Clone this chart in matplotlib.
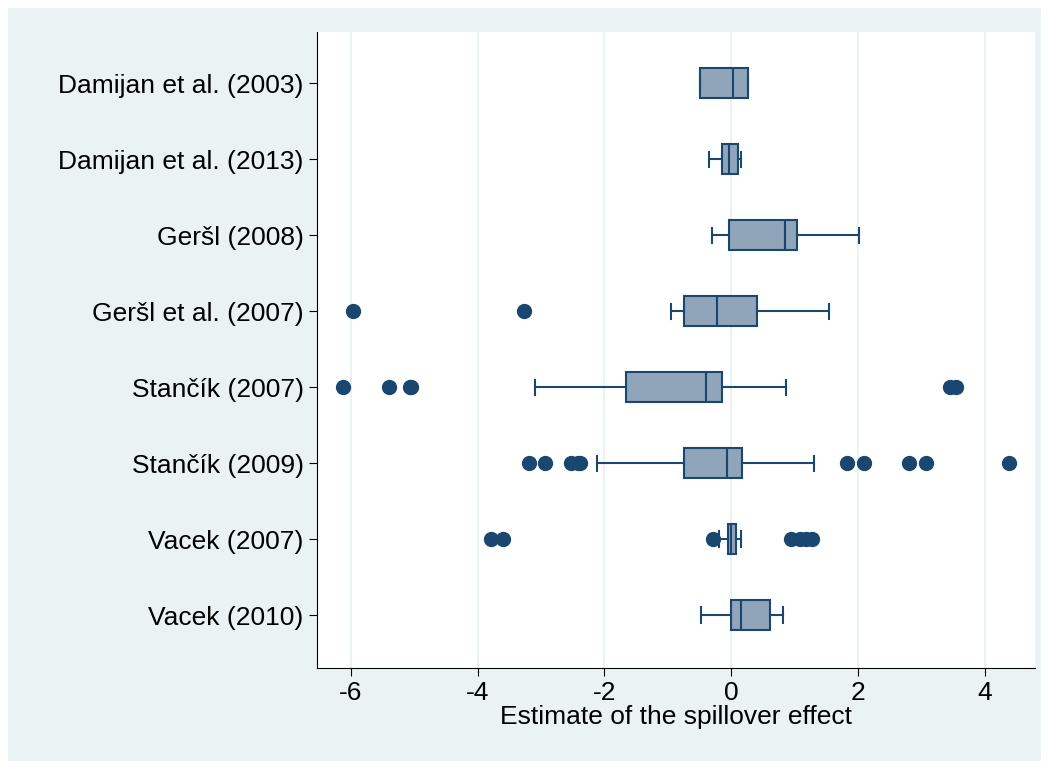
import matplotlib.pyplot as plt
from matplotlib.patches import Rectangle

plt.rcParams['font.family'] = ['Liberation Sans', 'DejaVu Sans']

studies = ["Damijan et al. (2003)", "Damijan et al. (2013)", "Geršl (2008)",
           "Geršl et al. (2007)", "Stančík (2007)", "Stančík (2009)",
           "Vacek (2007)", "Vacek (2010)"]
whislo = [-0.5, -0.35, -0.3, -0.95, -3.1, -2.12, -0.2, -0.47]
q1 = [-0.5, -0.14, -0.03, -0.74, -1.66, -0.74, -0.05, 0.0]
med = [0.03, -0.03, 0.85, -0.22, -0.4, -0.06, 0.0, 0.16]
q3 = [0.27, 0.1, 1.04, 0.4, -0.14, 0.17, 0.08, 0.62]
whishi = [0.27, 0.16, 2.02, 1.55, 0.87, 1.3, 0.16, 0.81]
outliers = [[], [], [], [-5.97, -3.27],
            [-6.13, -5.4, -5.07, -5.05, 3.46, 3.54],
            [-3.19, -2.94, -2.53, -2.42, -2.39, 1.82, 2.09, 2.8, 3.08, 4.38],
            [-3.79, -3.6, -0.28, 0.95, 1.09, 1.18, 1.28],
            []]

stats = [dict(label=s, whislo=a, q1=b, med=c, q3=d, whishi=e, fliers=f)
         for s, a, b, c, d, e, f in zip(studies, whislo, q1, med, q3, whishi, outliers)]

navy = '#1a476f'
fig = plt.figure(figsize=(10.49, 7.69), dpi=100, facecolor='white')
# light blue-grey background inside a thin white frame
fig.patches.append(Rectangle((0.008, 0.01), 0.984, 0.98, transform=fig.transFigure,
                             facecolor='#eaf2f3', edgecolor='none', zorder=-1))
ax = fig.add_axes([0.302, 0.131, 0.685, 0.827])
pos = list(range(1, len(studies) + 1))
ax.bxp(stats, positions=pos, vert=False, widths=0.4, patch_artist=True,
       boxprops=dict(facecolor='#90a4ba', edgecolor=navy, linewidth=1.5),
       medianprops=dict(color=navy, linewidth=1.5),
       whiskerprops=dict(color=navy, linewidth=1.5),
       capprops=dict(color=navy, linewidth=1.5),
       capwidths=0.2,
       flierprops=dict(marker='o', markerfacecolor=navy, markeredgecolor=navy, markersize=10))
ax.set_ylim(8.7, 0.33)
ax.set_xlim(-6.54, 4.8)
ax.set_xticks([-6, -4, -2, 0, 2, 4])
ax.set_xticklabels(['-6', '-4', '-2', '0', '2', '4'])
ax.grid(axis='x', color='#eaf2f3', linewidth=1.5)
ax.set_axisbelow(True)
ax.spines['top'].set_visible(False)
ax.spines['right'].set_visible(False)
ax.tick_params(labelsize=19, length=6)
ax.set_xlabel('Estimate of the spillover effect', fontsize=19, labelpad=0)
fig.savefig('out.png')
